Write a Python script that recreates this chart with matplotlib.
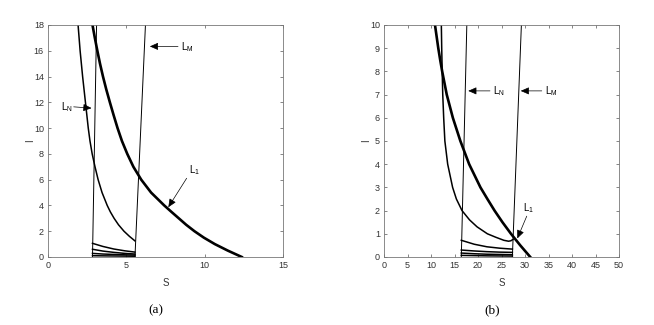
import matplotlib.pyplot as plt

plt.rcParams['font.family'] = ['Liberation Sans', 'DejaVu Sans']
plt.rcParams['mathtext.fontset'] = 'custom'
plt.rcParams['mathtext.rm'] = 'Liberation Sans'

# ---- panel (a) ----
a_LN_S = [2.84, 3.10]
a_LN_I = [0, 18]
a_LM_S = [5.55, 6.22]
a_LM_I = [0, 18]
a_L1_S = [2.84, 2.99, 3.15, 3.32, 3.51, 3.72, 3.95, 4.19, 4.44, 4.72, 5.06, 5.45, 5.95,
          6.58, 7.42, 7.88, 8.35, 8.82, 9.35, 9.95, 10.65, 11.47, 12.37]
a_L1_I = [18, 17, 16, 15, 14, 13, 12, 11, 10, 9, 8, 7, 6,
          5, 4, 3.5, 3, 2.5, 2, 1.5, 1, 0.5, 0]
a_orbit_S = [1.92, 2.05, 2.21, 2.39, 2.57, 2.68, 2.82, 3.00, 3.20, 3.45, 3.78, 3.98,
             4.22, 4.50, 4.85, 5.20, 5.55]
a_orbit_I = [18, 16, 14, 12, 10, 9, 8, 7, 6, 5, 4, 3.5,
             3, 2.5, 2, 1.6, 1.25]
a_low_S = [2.84, 3.50, 4.20, 4.90, 5.55]
a_low_I = [
    [1.06, 0.82, 0.62, 0.48, 0.38],
    [0.60, 0.46, 0.36, 0.28, 0.23],
    [0.28, 0.23, 0.20, 0.17, 0.15],
    [0.10, 0.09, 0.08, 0.07, 0.06],
]

# ---- panel (b) ----
b_LN_S = [16.45, 17.62]
b_LN_I = [0, 10]
b_LM_S = [27.31, 29.23]
b_LM_I = [0, 10]
b_L1_S = [10.85, 11.55, 11.95, 12.38, 13.35, 14.65, 16.25, 18.12, 20.52, 22.0,
          23.52, 25.2, 27.02, 29.0, 31.12]
b_L1_I = [10, 9, 8.5, 8, 7, 6, 5, 4, 3, 2.5,
          2, 1.5, 1, 0.5, 0]
b_orbit_S = [12.20, 12.28, 12.38, 12.50, 12.70, 12.95, 13.55, 14.60, 15.40, 16.60,
             18.20, 19.80, 22.00, 23.80, 25.50, 26.50, 27.00, 27.46]
b_orbit_I = [10, 9, 8, 7, 6, 5, 4, 3, 2.5, 2,
             1.6, 1.3, 1.0, 0.85, 0.72, 0.68, 0.70, 0.76]
b_low_S = [16.45, 19.20, 21.90, 24.60, 27.31]
b_low_I = [
    [0.72, 0.55, 0.44, 0.38, 0.34],
    [0.30, 0.26, 0.23, 0.21, 0.20],
    [0.17, 0.14, 0.12, 0.11, 0.10],
    [0.07, 0.06, 0.05, 0.045, 0.04],
]

fig = plt.figure(figsize=(6.54, 3.25), dpi=100)
ax_a = fig.add_axes([48 / 654, 68 / 325, 235 / 654, 232 / 325])
ax_b = fig.add_axes([384 / 654, 68 / 325, 235 / 654, 232 / 325])

arrow = dict(arrowstyle='-|>,head_length=0.5,head_width=0.22', lw=0.5, color='black',
             shrinkA=0, shrinkB=0)


def style_axes(ax, xmax, xstep, ymax, ystep):
    ax.set_xlim(0, xmax)
    ax.set_ylim(0, ymax)
    ax.set_xticks(range(0, xmax + 1, xstep))
    ax.set_yticks(range(0, ymax + 1, ystep))
    ax.tick_params(direction='in', length=2.5, width=0.5, top=True, right=True,
                   labelsize=6.5, colors='#555555', labelcolor='#333333', pad=3)
    for sp in ax.spines.values():
        sp.set_color('#777777')
        sp.set_linewidth(0.6)
    ax.set_xlabel('S', fontsize=7, color='#333333', labelpad=6)
    ax.set_ylabel('I', fontsize=7, color='#333333', labelpad=-1)


def draw_panel(ax, LN_S, LN_I, LM_S, LM_I, L1_S, L1_I, orb_S, orb_I, low_S, low_I):
    ax.plot(LN_S, LN_I, color='black', lw=0.7)
    ax.plot(LM_S, LM_I, color='black', lw=0.7)
    ax.plot(orb_S, orb_I, color='black', lw=1.1)
    for ys in low_I:
        ax.plot(low_S, ys, color='black', lw=1.1)
    ax.plot(L1_S, L1_I, color='black', lw=1.9)


draw_panel(ax_a, a_LN_S, a_LN_I, a_LM_S, a_LM_I, a_L1_S, a_L1_I,
           a_orbit_S, a_orbit_I, a_low_S, a_low_I)
style_axes(ax_a, 15, 5, 18, 2)
ax_a.annotate('', xy=(6.5, 16.34), xytext=(8.3, 16.34), arrowprops=arrow)
ax_a.text(8.5, 16.3, r'$\mathregular{L_M}$', fontsize=7, va='center', ha='left')
ax_a.annotate('', xy=(2.78, 11.55), xytext=(1.64, 11.65), arrowprops=arrow)
ax_a.text(1.6, 11.6, r'$\mathregular{L_N}$', fontsize=7, va='center', ha='right')
ax_a.annotate('', xy=(7.68, 3.86), xytext=(8.85, 6.11), arrowprops=arrow)
ax_a.text(9.0, 6.75, r'$\mathregular{L_1}$', fontsize=7, va='center', ha='left')

draw_panel(ax_b, b_LN_S, b_LN_I, b_LM_S, b_LM_I, b_L1_S, b_L1_I,
           b_orbit_S, b_orbit_I, b_low_S, b_low_I)
style_axes(ax_b, 50, 5, 10, 1)
ax_b.annotate('', xy=(17.92, 7.16), xytext=(22.55, 7.16), arrowprops=arrow)
ax_b.text(23.2, 7.13, r'$\mathregular{L_N}$', fontsize=7, va='center', ha='left')
ax_b.annotate('', xy=(29.09, 7.16), xytext=(33.57, 7.16), arrowprops=arrow)
ax_b.text(34.3, 7.13, r'$\mathregular{L_M}$', fontsize=7, va='center', ha='left')
ax_b.annotate('', xy=(28.37, 0.8), xytext=(30.37, 1.76), arrowprops=arrow)
ax_b.text(29.6, 2.1, r'$\mathregular{L_1}$', fontsize=7, va='center', ha='left')

fig.text(156 / 654, 1 - 310 / 325, '(a)', family='Liberation Serif', fontsize=9.5,
         ha='center', va='center')
fig.text(492 / 654, 1 - 310 / 325, '(b)', family='Liberation Serif', fontsize=9.5,
         ha='center', va='center')

fig.savefig('out.png', dpi=100)
